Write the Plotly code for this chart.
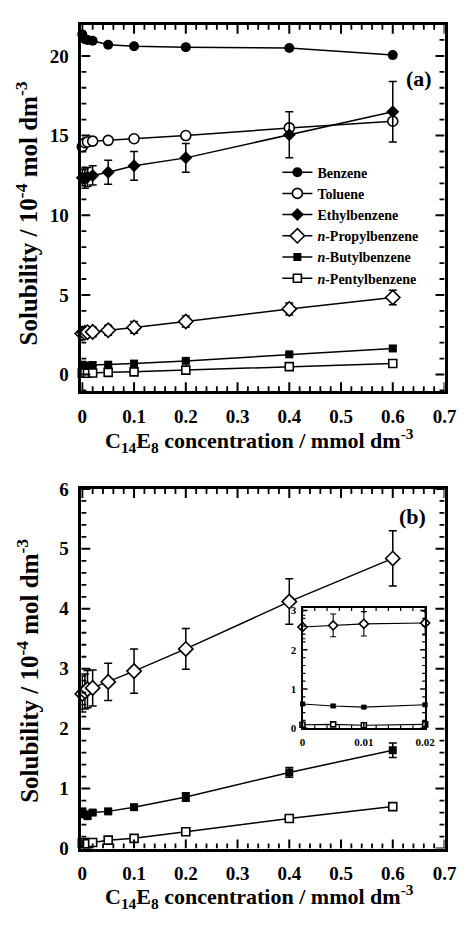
import plotly.graph_objects as go

# C14E8 surfactant concentration (mmol dm^-3)
conc = [0, 0.005, 0.01, 0.02, 0.05, 0.1, 0.2, 0.4, 0.6]

# Solubilities (10^-4 mol dm^-3)
benzene = [21.35, 21.05, 21.0, 20.95, 20.7, 20.6, 20.55, 20.5, 20.05]
toluene = [14.3, 14.55, 14.6, 14.65, 14.7, 14.8, 15.0, 15.48, 15.9]
ethylbenzene = [12.35, 12.3, 12.4, 12.5, 12.7, 13.1, 13.6, 15.05, 16.5]
ethylbenzene_err = [0.5, 0.6, 0.6, 0.6, 0.75, 0.9, 0.9, 1.45, 1.9]
propylbenzene = [2.58, 2.62, 2.66, 2.68, 2.78, 2.96, 3.33, 4.12, 4.84]
propylbenzene_err = [0.3, 0.29, 0.31, 0.3, 0.31, 0.37, 0.34, 0.38, 0.46]
butylbenzene = [0.62, 0.57, 0.54, 0.60, 0.62, 0.69, 0.86, 1.27, 1.64]
butylbenzene_err = [0.03, 0.03, 0.03, 0.03, 0.03, 0.04, 0.07, 0.08, 0.12]
pentylbenzene = [0.09, 0.10, 0.08, 0.10, 0.14, 0.17, 0.28, 0.50, 0.70]

# tick positions
x_major = [0, 0.1, 0.2, 0.3, 0.4, 0.5, 0.6, 0.7]
x_minor = [round(i * 0.02, 3) for i in range(36)]
ya_major = [0, 5, 10, 15, 20]
ya_minor = list(range(-1, 22))
yb_major = [0, 1, 2, 3, 4, 5, 6]
yb_minor = [round(i * 0.2, 1) for i in range(31)]
xi_major = [0, 0.01, 0.02]
xi_minor = [round(i * 0.002, 3) for i in range(11)]
yi_major = [0, 1, 2, 3]
yi_minor = [round(i * 0.2, 1) for i in range(16)]

FONT = "Liberation Serif"
W, H = 471, 926

X_RANGE = [-0.002, 0.7]
YA_RANGE = [-1.04, 21.96]
YB_RANGE = [0, 6]
XI_RANGE = [0, 0.02]
YI_RANGE = [0, 3.06]

# series: name, values, errors, symbol, filled, marker size
series = [
    ("Benzene", benzene, None, "circle", True, 10),
    ("Toluene", toluene, None, "circle", False, 10),
    ("Ethylbenzene", ethylbenzene, ethylbenzene_err, "diamond", True, 10),
    ("<i>n</i>-Propylbenzene", propylbenzene, propylbenzene_err, "diamond", False, 11),
    ("<i>n</i>-Butylbenzene", butylbenzene, butylbenzene_err, "square", True, 8),
    ("<i>n</i>-Pentylbenzene", pentylbenzene, None, "square", False, 8),
]

fig = go.Figure()


def add_series(name, y, err, symbol, filled, size, xa, ya, legend,
               lw=1.5, ew=1.5, cap=4):
    fig.add_trace(go.Scatter(
        x=conc, y=y, name=name, mode="lines+markers",
        xaxis=xa, yaxis=ya, showlegend=legend, cliponaxis=False,
        line=dict(color="black", width=lw),
        marker=dict(symbol=symbol, size=size,
                    color="black" if filled else "white",
                    line=dict(color="black", width=1.6 if not filled else 0)),
        error_y=dict(type="data", array=err, visible=err is not None,
                     color="black", thickness=ew, width=cap),
    ))


# (a) all six solutes
for name, y, err, sym, filled, size in series:
    add_series(name, y, err, sym, filled, size, "x", "y", True)

# (b) the three longest alkylbenzenes
for name, y, err, sym, filled, size in series[3:]:
    add_series(name, y, err, sym, filled, size, "x2", "y2", False)

# inset: low-concentration region
for name, y, err, sym, filled, size in series[3:]:
    add_series(name, y, err, sym, filled, max(size - 4, 5), "x3", "y3", False,
               lw=1.1, ew=1.1, cap=3)


def frame_ticks(xref, yref, xr, yr, xmaj, xmin, ymaj, ymin, major_len, minor_len,
                major_w, minor_w):
    """Inward-pointing tick marks on all four sides of a subplot frame."""
    shapes = []
    for vals, length, width in ((xmaj, major_len, major_w),
                                ([v for v in xmin if v not in xmaj], minor_len, minor_w)):
        for v in vals:
            if not (xr[0] <= v <= xr[1]):
                continue
            for anchor, sign in ((yr[0], 1), (yr[1], -1)):
                shapes.append(dict(type="line", xref=xref, yref=yref, x0=v, x1=v,
                                   ysizemode="pixel", yanchor=anchor, y0=0, y1=sign * length,
                                   line=dict(color="black", width=width), layer="above"))
    for vals, length, width in ((ymaj, major_len, major_w),
                                ([v for v in ymin if v not in ymaj], minor_len, minor_w)):
        for v in vals:
            if not (yr[0] <= v <= yr[1]):
                continue
            for anchor, sign in ((xr[0], 1), (xr[1], -1)):
                shapes.append(dict(type="line", xref=xref, yref=yref, y0=v, y1=v,
                                   xsizemode="pixel", xanchor=anchor, x0=0, x1=sign * length,
                                   line=dict(color="black", width=width), layer="above"))
    return shapes


shapes = []
shapes += frame_ticks("x", "y", X_RANGE, YA_RANGE, x_major, x_minor, ya_major, ya_minor,
                      9, 5, 2, 1.8)
shapes += frame_ticks("x2", "y2", X_RANGE, YB_RANGE, x_major, x_minor, yb_major, yb_minor,
                      9, 5, 2, 1.8)
shapes += frame_ticks("x3", "y3", XI_RANGE, YI_RANGE, xi_major, xi_minor, yi_major, yi_minor,
                      5, 3, 1.5, 1.2)

tickfont = dict(family=FONT, size=19, color="black", weight="bold")
small_font = dict(family=FONT, size=11, color="black", weight="bold")

axis_common = dict(
    showline=True, linecolor="black", linewidth=2.5, mirror=True,
    ticks="", showgrid=False, zeroline=False, tickfont=tickfont, ticklabelstandoff=6,
)

xdom = [80 / W, 456 / W]
fig.update_layout(
    width=W, height=H,
    margin=dict(l=0, r=0, t=0, b=0),
    paper_bgcolor="white", plot_bgcolor="rgba(0,0,0,0)",
    font=dict(family=FONT, color="black"),
    shapes=shapes,
    xaxis=dict(axis_common, domain=xdom, anchor="y", range=X_RANGE,
               tickvals=x_major, ticktext=[f"{v:g}" for v in x_major]),
    yaxis=dict(axis_common, domain=[1 - 390 / H, 1 - 15 / H], anchor="x",
               range=YA_RANGE, tickvals=ya_major),
    xaxis2=dict(axis_common, domain=xdom, anchor="y2", range=X_RANGE,
                tickvals=x_major, ticktext=[f"{v:g}" for v in x_major]),
    yaxis2=dict(axis_common, domain=[1 - 858 / H, 1 - 490 / H], anchor="x2",
                range=YB_RANGE, tickvals=yb_major),
    xaxis3=dict(axis_common, domain=[309 / W, 436 / W], anchor="y3", range=XI_RANGE,
                tickvals=xi_major, ticktext=["0", "0.01", "0.02"],
                linewidth=2, tickfont=small_font, ticklabelstandoff=2),
    yaxis3=dict(axis_common, domain=[1 - 735 / H, 1 - 612 / H], anchor="x3",
                range=YI_RANGE, tickvals=yi_major,
                linewidth=2, tickfont=small_font, ticklabelstandoff=2),
    legend=dict(x=283 / W, y=1 - 150 / H, xanchor="left", yanchor="top",
                bgcolor="rgba(0,0,0,0)", borderwidth=0, tracegroupgap=0,
                font=dict(family=FONT, size=14, color="black", weight="bold")),
)

ytitle = "Solubility / 10<sup>-4</sup> mol dm<sup>-3</sup>"
xtitle = "C<sub>14</sub>E<sub>8</sub> concentration / mmol dm<sup>-3</sup>"
title_font = dict(family=FONT, size=22, color="black", weight="bold")
ytitle_font = dict(family=FONT, size=25, color="black", weight="bold")

annotations = [
    dict(text=ytitle, x=24 / W, y=1 - 208 / H, textangle=-90, font=ytitle_font),
    dict(text=ytitle, x=24 / W, y=1 - 676 / H, textangle=-90, font=ytitle_font),
    dict(text=xtitle, x=265 / W, y=1 - 440 / H, font=title_font),
    dict(text=xtitle, x=265 / W, y=1 - 907 / H, font=title_font),
    dict(text="(a)", x=430 / W, y=1 - 70 / H, font=title_font),
    dict(text="(b)", x=423 / W, y=1 - 518 / H, font=title_font),
]
for a in annotations:
    fig.add_annotation(xref="paper", yref="paper", showarrow=False,
                       xanchor="center", yanchor="middle", **a)

fig.write_html("out.html")
